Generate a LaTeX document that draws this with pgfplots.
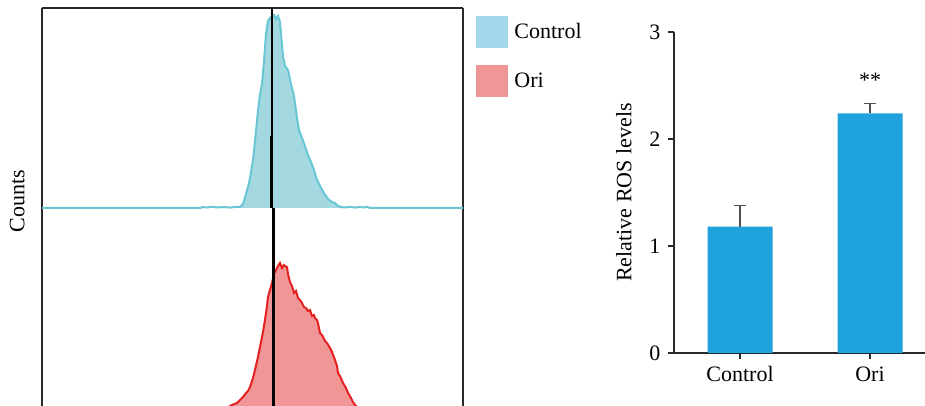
\documentclass[border=0pt]{standalone}
\usepackage{fontspec}
\setmainfont{Liberation Serif}
\usepackage{pgfplots}
\pgfplotsset{compat=1.18}
\definecolor{ctlfill}{RGB}{163,216,224}
\definecolor{ctlline}{RGB}{105,198,212}
\definecolor{ctlleg}{RGB}{161,216,235}
\definecolor{orifill}{RGB}{240,150,150}
\definecolor{oriline}{RGB}{228,32,32}
\definecolor{barblue}{RGB}{32,162,220}
\definecolor{errgray}{RGB}{80,80,80}
\definecolor{axgray}{RGB}{40,40,40}
\begin{document}
\fontsize{11pt}{13pt}\selectfont
\begin{tikzpicture}
\begin{axis}[
  at={(21pt,0pt)}, anchor=south west,
  scale only axis, width=210.5pt, height=199pt,
  xmin=42, xmax=463, ymin=0, ymax=398,
  axis x line*=top, axis y line*=box,
  axis line style={axgray, line width=0.7pt},
  xtick=\empty, ytick=\empty,
  ylabel={Counts},
  ylabel style={at={(axis description cs:-0.0404,0.515)}, anchor=south, inner sep=0pt},
  legend image code/.code={\fill[#1, draw=none] (0pt,-8pt) rectangle (16pt,8pt);},
  legend style={at={(1,1)}, anchor=north west, xshift=6.5pt, yshift=-4pt,
    draw=none, fill=none, inner sep=0pt, row sep=8.5pt, column sep=3pt,
    nodes={inner sep=0pt}},
  legend cell align=left,
]
\addplot[forget plot, fill=ctlfill, draw=ctlline, line width=1pt] coordinates {
(42,198) (120,198) (200,198) (203,199) (207,198.5) (212,199.2) (218,198.6) (224,199) (230,198.4) (236,199.2) (240,199)
(243,202) (246,212) (248,219) (250,228) (253,246) (255,265) (258,295) (260,312) (262,322) (264,345)
(266,372) (268,385) (270,388) (272,390) (274,391) (276,387) (278,390) (280,384) (281,372) (283,350)
(285,340) (288,336) (291,322) (294,310) (297,288) (299,276) (302,268) (305,260) (308,251) (311,244)
(314,236) (317,226) (320,220) (324,213) (326,210) (328,207) (330,205.5) (332,204) (335,203) (338,200) (341,199)
(345,198.5) (350,199.2) (355,198.4) (360,199) (364,198.5) (367,199.3) (370,198) (463,198)};
\addplot[forget plot, fill=orifill, draw=oriline, line width=1pt] coordinates {
(225,-5) (230,0) (232,1) (237,3) (240,6) (243,9) (246,13) (248,15) (250,19) (253,28) (255,36) (258,49)
(260,59) (263,74) (265,86) (267,100) (268,109) (270,116) (272,123) (274,132) (276,136) (278,140)
(280,143) (282,138) (284,141) (285,140) (287,139) (288,132) (290,124) (292,120) (294,113) (296,115)
(298,108) (300,106) (302,103) (304,99) (306,98) (308,95) (310,96) (312,90) (314,91) (315,88)
(317,86) (318,83) (320,73) (322,71) (325,65) (327,63) (330,58) (332,54) (335,46) (337,40) (338,33)
(340,30) (343,23) (346,18) (348,13) (351,8) (353,4) (355,1) (357,-1) (360,-5)};
\addplot[forget plot, black, line width=1.0pt] coordinates {(271.5,270) (271.5,398)};
\addplot[forget plot, black, line width=1.4pt] coordinates {(271.7,198) (271.7,270)};
\addplot[forget plot, black, line width=1.1pt] coordinates {(273.5,60) (273.5,198)};
\addplot[forget plot, black, line width=1.5pt] coordinates {(273.7,0) (273.7,60)};
\addlegendimage{fill=ctlleg}
\addlegendentry{Control}
\addlegendimage{fill=orifill}
\addlegendentry{Ori}
\end{axis}
\begin{axis}[
  at={(337pt,26.5pt)}, anchor=south west,
  scale only axis, width=125.5pt, height=160.5pt,
  xmin=-0.508, xmax=1.423, ymin=0, ymax=3,
  axis lines*=left,
  axis line style={axgray, line width=0.7pt},
  xtick={0,1}, xticklabels={Control,Ori},
  ytick={0,1,2,3},
  tick align=outside, major tick length=3pt,
  tick style={axgray, line width=0.6pt},
  /pgf/number format/assume math mode=true,
  ylabel={Relative ROS levels},
  ylabel style={at={(axis description cs:-0.167,0.5)}, anchor=south, inner sep=0pt},
  ybar, bar width=32.5pt,
]
\addplot[fill=barblue, draw=none,
  error bars/.cd, y dir=plus, y explicit,
  error bar style={errgray, line width=0.6pt},
  error mark options={rotate=90, mark size=3pt, errgray, line width=0.6pt}]
  coordinates {(0,1.18) +- (0,0.20) (1,2.24) +- (0,0.09)};
\node[anchor=base, inner sep=0pt] at (axis cs:1,2.48) {**};
\end{axis}
\pgfresetboundingbox
\useasboundingbox (0,0) rectangle (462.5pt,203pt);
\end{tikzpicture}
\end{document}
